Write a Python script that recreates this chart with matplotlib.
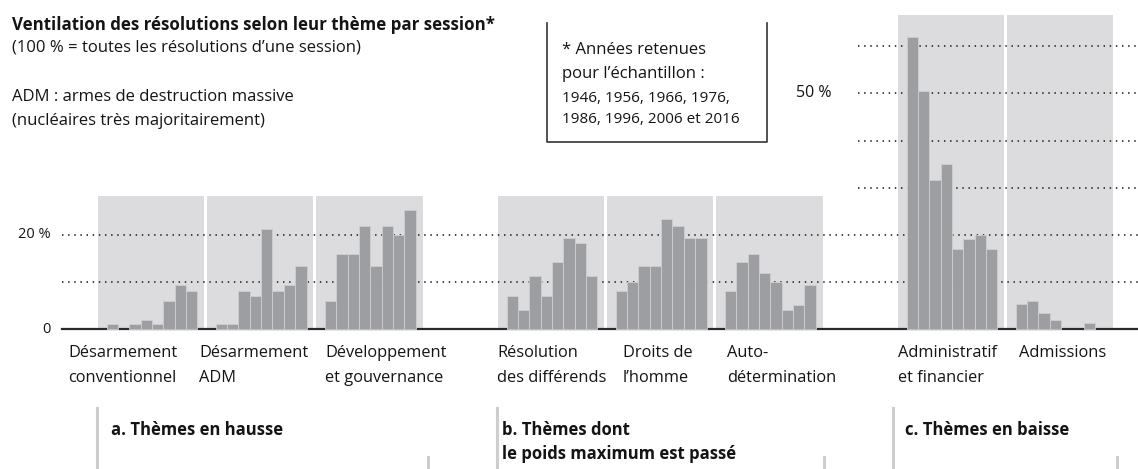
import matplotlib
matplotlib.use("Agg")
import matplotlib.pyplot as plt
from matplotlib.lines import Line2D

plt.rcParams['font.family'] = ['Open Sans', 'DejaVu Sans']

# share of resolutions (%) per theme, sessions 1946..2016
sessions = [1946, 1956, 1966, 1976, 1986, 1996, 2006, 2016]
desarm_conv = [1.2, 0, 1.2, 2.0, 1.2, 6.0, 9.3, 8.2]
desarm_adm = [1.2, 1.2, 8.2, 7.1, 21.2, 8.2, 9.3, 13.4]
developpement = [6.0, 16.0, 16.0, 21.9, 13.4, 21.9, 20.0, 25.2]
resol_differends = [7.1, 4.1, 11.2, 7.1, 14.2, 19.3, 18.2, 11.2]
droits_homme = [8.2, 10.1, 13.4, 13.4, 23.4, 21.9, 19.3, 19.3]
autodetermination = [8.2, 14.2, 16.0, 11.9, 10.1, 4.1, 5.2, 9.3]
administratif = [62.0, 50.5, 31.7, 35.0, 17.1, 19.2, 20.0, 17.1]
admissions = [5.3, 6.0, 3.5, 2.0, 0, 0, 1.3, 0]

theme_labels = [
    [("Désarmement", "conventionnel"), ("Désarmement", "ADM"), ("Développement", "et gouvernance")],
    [("Résolution", "des différends"), ("Droits de", "l’homme"), ("Auto-", "détermination")],
    [("Administratif", "et financier"), ("Admissions", "")],
]
theme_series = [
    [desarm_conv, desarm_adm, developpement],
    [resol_differends, droits_homme, autodetermination],
    [administratif, admissions],
]
section_titles = ["a. Thèmes en hausse", "b. Thèmes dont\nle poids maximum est passé", "c. Thèmes en baisse"]
grid_low = [10, 20]
grid_high = [30, 40, 50, 60]

W, H = 1138, 469
SLOT = 11.35      # px per session slot
X0 = 97.7         # px, left of first panel
BASE = 329.3      # px, zero line
PER = 4.72        # px per percent

GROUP_W = 9.38
GROUP_STEP = 9.62
THEME_STEP = 35.24
PAD = 0.78
SHADE_TOP = [28.2, 28.2, 66.6]


def px_x(px):
    return (px - X0) / SLOT


def ftext(x, y, s, **kw):
    fig.text(x / W, 1 - y / H, s, **kw)


fig = plt.figure(figsize=(W / 100, H / 100), dpi=100)
ax = fig.add_axes([0, 0, 1, 1])
ax.set_xlim(px_x(0), px_x(W))
ax.set_ylim(-(H - BASE) / PER, BASE / PER)
ax.axis('off')

bar_col = '#9d9ea1'
shade_col = '#dcdcde'
txt = '#141414'

for t, series in enumerate(theme_series):
    for g, vals in enumerate(series):
        left = t * THEME_STEP + g * GROUP_STEP
        ax.bar(left, SHADE_TOP[t], width=GROUP_W, align='edge', color=shade_col,
               linewidth=0, zorder=1)
        xs = [left + PAD + i for i, v in enumerate(vals) if v > 0]
        hs = [v for v in vals if v > 0]
        ax.bar(xs, hs, width=1, align='edge', color=bar_col,
               edgecolor='#cfcfd2', linewidth=0.6, zorder=3)

xr = px_x(W)
for v in grid_low:
    ax.plot([px_x(62), xr], [v, v], color='#333333', lw=1.3,
            linestyle=(0, (0.8, 2.6)), zorder=2)
for v in grid_high:
    ax.plot([px_x(858), xr], [v, v], color='#333333', lw=1.3,
            linestyle=(0, (0.8, 2.6)), zorder=2)
ax.plot([px_x(62), xr], [0, 0], color='#2a2a2a', lw=1.6, zorder=2)

ax.text(px_x(51), 20, "20 %", ha='right', va='center', fontsize=10.5, color=txt)
ax.text(px_x(51), 0, "0", ha='right', va='center', fontsize=10.5, color=txt)
ax.text(px_x(832), 50, "50 %", ha='right', va='center', fontsize=11.5, color=txt)

# category labels
label_x = [[68, 199, 325], [497, 623, 727], [898, 1019]]
for t, labs in enumerate(theme_labels):
    for g, (l1, l2) in enumerate(labs):
        ftext(label_x[t][g], 353, l1, ha='left', va='center', fontsize=11.8, color=txt)
        ftext(label_x[t][g], 378, l2, ha='left', va='center', fontsize=11.8, color=txt)

# section headers and separators
long_lines = [96.7, 497, 892.5]
short_lines = [427.7, 824, 1117]
sec_x = [111, 502, 905]
for t in range(3):
    fig.add_artist(Line2D([long_lines[t] / W] * 2, [1 - 408 / H, 0], color='#cdcdcd', lw=2.2))
    fig.add_artist(Line2D([short_lines[t] / W] * 2, [1 - 457 / H, 0], color='#cdcdcd', lw=2.2))
    lines = section_titles[t].split("\n")
    for k, s in enumerate(lines):
        ftext(sec_x[t], 430 + 24 * k, s, ha='left', va='center', fontsize=12,
              fontweight='bold', color=txt)

# top-left texts
ftext(12, 25, "Ventilation des résolutions selon leur thème par session*", ha='left', va='center',
      fontsize=12.2, fontweight='bold', color=txt)
ftext(12, 47, "(100 % = toutes les résolutions d’une session)", ha='left', va='center',
      fontsize=12, color=txt)
ftext(12, 97, "ADM : armes de destruction massive", ha='left', va='center', fontsize=12, color=txt)
ftext(12, 121, "(nucléaires très majoritairement)", ha='left', va='center', fontsize=12, color=txt)

# note box (open at top)
bx0, bx1, by0, by1 = 546.7, 766.7, 22.7, 141.7
fig.add_artist(Line2D([bx0 / W, bx0 / W, bx1 / W, bx1 / W],
                      [1 - by0 / H, 1 - by1 / H, 1 - by1 / H, 1 - by0 / H],
                      color='#333333', lw=1.2))
ftext(562, 50, "* Années retenues", ha='left', va='center', fontsize=12, color=txt)
ftext(562, 74, "pour l’échantillon :", ha='left', va='center', fontsize=12, color=txt)
ftext(562, 98, "1946, 1956, 1966, 1976,", ha='left', va='center', fontsize=11, color=txt)
ftext(562, 119, "1986, 1996, 2006 et 2016", ha='left', va='center', fontsize=11, color=txt)

fig.savefig("out.png", dpi=100)
